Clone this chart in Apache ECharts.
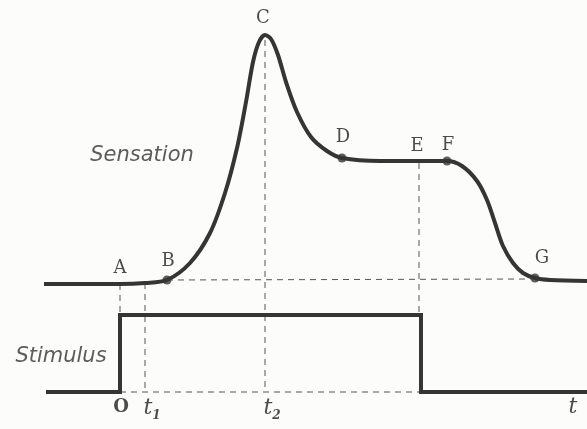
<!DOCTYPE html>
<html>
<head>
<meta charset="utf-8">
<script src="https://cdn.jsdelivr.net/npm/echarts@6/dist/echarts.min.js"></script>
<style>
html, body { margin: 0; padding: 0; background: #fcfcfa; }
#chart { width: 587px; height: 429px; }
</style>
</head>
<body>
<div id="chart"></div>
<script>
// sensation curve (x = time, y = height in picture units, down is larger)
var sensation = [
    [44, 284], [90, 284], [120, 284], [145, 283], [167, 280], [190, 263], [210, 233],
    [225, 193], [237, 148], [246, 102], [253, 62], [259, 42], [265, 35], [271, 39],
    [278, 55], [286, 82], [297, 112], [311, 137], [327, 151], [342, 158], [380, 161],
    [418, 161], [447, 161], [462, 166], [477, 181], [487, 200], [495, 223], [503, 246],
    [513, 263], [523, 273], [535, 278], [550, 280], [587, 281]
];
// stimulus step
var stimulus = [[46, 392], [120, 392], [120, 315], [421, 315], [421, 392], [587, 392]];
// marked points on sensation curve
var marked = [[167, 280], [342, 158], [447, 161], [535, 278]];
// dashed guide lines
var guides = [
    [[120, 284], [120, 315]],
    [[145, 283], [145, 392]],
    [[265, 40], [265, 392]],
    [[419, 163], [419, 315]],
    [[167, 280], [535, 279]],
    [[120, 392], [421, 392]]
];
// letter labels
var letters = [
    ['A', 120, 268], ['B', 168, 261], ['C', 263, 18], ['D', 343, 137],
    ['E', 417, 146], ['F', 448, 145], ['G', 542, 258]
];
var origin = [['O', 121, 407]];
var timeLabels = [['t{s|1}', 152, 408], ['t{s|2}', 272, 408], ['t', 573, 407]];
var words = [['Sensation', 142, 156], ['Stimulus', 61, 357]];

var ink = '#353535';
var chart = echarts.init(document.getElementById('chart'));

var textSeries = function (list, label) {
    return {
        type: 'scatter',
        symbolSize: 0,
        silent: true,
        data: list.map(function (l) { return { value: [l[1], l[2]], name: l[0] }; }),
        label: Object.assign({ show: true, position: 'inside', formatter: '{b}', color: '#1e1e1e' }, label)
    };
};

var series = [];
guides.forEach(function (g) {
    series.push({
        type: 'line',
        data: g,
        symbol: 'none',
        silent: true,
        lineStyle: { color: '#555', width: 1, type: [6, 5] }
    });
});
series.push({
    name: 'Sensation',
    type: 'line',
    data: sensation,
    smooth: 0.3,
    symbol: 'none',
    lineStyle: { color: ink, width: 4 }
});
series.push({
    name: 'Stimulus',
    type: 'line',
    data: stimulus,
    symbol: 'none',
    lineStyle: { color: ink, width: 4, join: 'miter' }
});
series.push({
    type: 'scatter',
    data: marked,
    symbolSize: 9,
    itemStyle: { color: ink }
});
series.push(textSeries(letters, { fontFamily: 'DejaVu Serif', fontSize: 18 }));
series.push(textSeries(origin, { fontFamily: 'DejaVu Serif', fontSize: 18, fontWeight: 'bold' }));
series.push(textSeries(timeLabels, {
    fontFamily: 'DejaVu Serif', fontStyle: 'italic', fontSize: 22,
    rich: { s: { fontFamily: 'DejaVu Serif', fontSize: 12, fontWeight: 'bold', padding: [16, 0, 0, 0], color: '#1e1e1e' } }
}));
series.push(textSeries(words, { fontFamily: 'DejaVu Sans', fontStyle: 'italic', fontSize: 21, color: '#333' }));

var option = {
    backgroundColor: '#fcfcfa',
    animation: false,
    grid: { left: 0, right: 0, top: 0, bottom: 0 },
    xAxis: { type: 'value', min: 0, max: 587, show: false },
    yAxis: { type: 'value', min: 0, max: 429, inverse: true, show: false },
    series: series
};
chart.setOption(option);
</script>
</body>
</html>
